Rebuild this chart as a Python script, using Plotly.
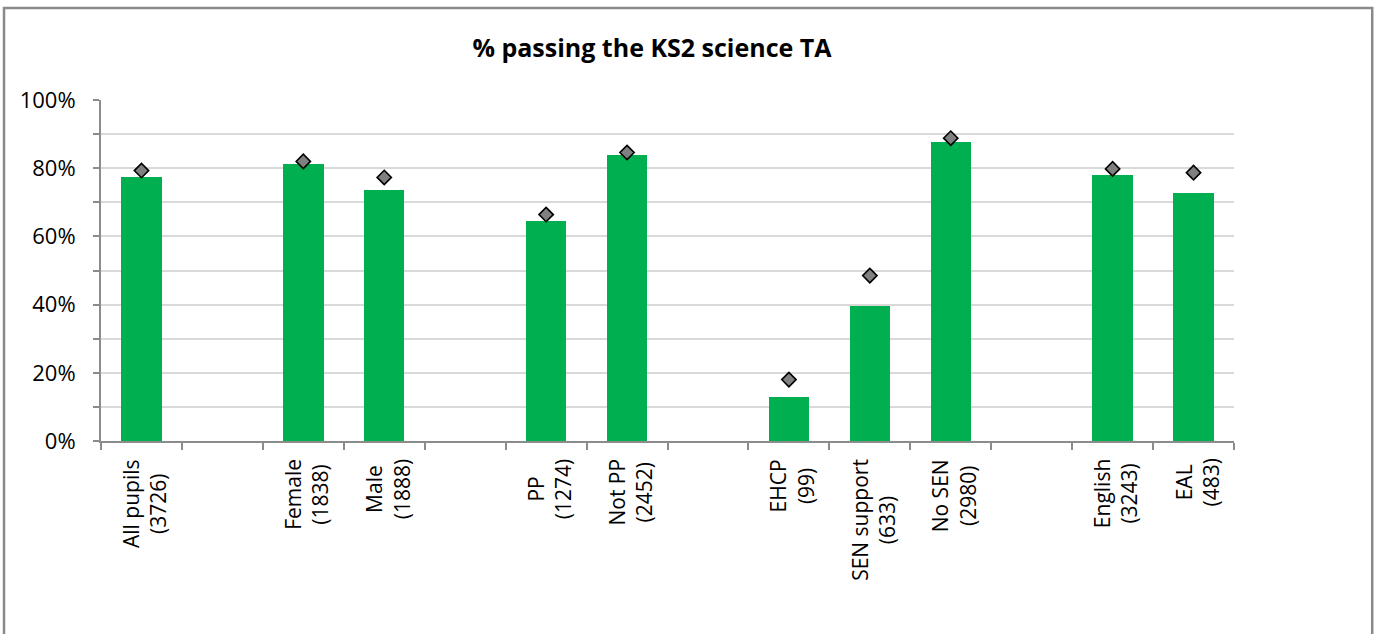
import plotly.graph_objects as go

# Pupil groups, cohort sizes and pass rates
categories = ["All pupils", "Female", "Male", "PP", "Not PP",
              "EHCP", "SEN support", "No SEN", "English", "EAL"]
counts = [3726, 1838, 1888, 1274, 2452, 99, 633, 2980, 3243, 483]
group_ids = [0, 1, 1, 2, 2, 3, 3, 3, 4, 4]
school_pct = [77.4, 81.1, 73.5, 64.4, 84.0, 13.0, 39.5, 87.6, 78.0, 72.8]
national_pct = [79.3, 82.0, 77.3, 66.4, 84.6, 18.0, 48.5, 88.8, 79.8, 78.7]

y_tick_vals = [0, 10, 20, 30, 40, 50, 60, 70, 80, 90, 100]
y_tick_text = ["0%", "", "20%", "", "40%", "", "60%", "", "80%", "", "100%"]

# one empty slot between each group of bars
positions = [i + g for i, g in enumerate(group_ids)]
n_slots = positions[-1] + 1
labels = [f"{c}<br>({n})" for c, n in zip(categories, counts)]

FONT = "Open Sans, Noto Sans, DejaVu Sans, sans-serif"
AXIS_GREY = "#8c8c8c"

fig = go.Figure()
fig.add_trace(go.Bar(
    x=positions, y=school_pct, width=0.5,
    marker=dict(color="#00b050", line=dict(width=0)),
    hoverinfo="skip",
))
fig.add_trace(go.Scatter(
    x=positions, y=national_pct, mode="markers",
    marker=dict(symbol="diamond", size=11, color="#808080",
                line=dict(color="#000000", width=1.6)),
    hoverinfo="skip",
))

for p, lab in zip(positions, labels):
    fig.add_annotation(
        x=p, xref="x", y=-0.047, yref="paper",
        text=lab, textangle=-90, showarrow=False,
        xanchor="center", yanchor="top", align="center", xshift=3,
        font=dict(family=FONT, size=21, color="#000000"),
    )

# outer chart frame
fig.add_shape(type="rect", xref="paper", yref="paper",
              x0=-0.0856, x1=1.122, y0=-1.0, y1=1.2698,
              line=dict(color="#8a8a8a", width=2.5), fillcolor="rgba(0,0,0,0)",
              layer="below")

fig.update_layout(
    width=1378, height=634,
    margin=dict(l=101, r=144, t=100, b=193),
    paper_bgcolor="white", plot_bgcolor="white",
    showlegend=False, bargap=0,
    title=dict(text="<b>% passing the KS2 science TA</b>",
               x=0.4863, xref="paper", xanchor="center",
               y=1 - 48 / 634, yref="container", yanchor="middle",
               font=dict(family=FONT, size=25, color="#000000")),
    xaxis=dict(range=[-0.5, n_slots - 0.5],
               tickvals=[i - 0.5 for i in range(n_slots + 1)],
               showticklabels=False, ticks="outside", ticklen=7,
               tickwidth=2, tickcolor=AXIS_GREY,
               showline=True, linecolor=AXIS_GREY, linewidth=2,
               showgrid=False, zeroline=False, fixedrange=True),
    yaxis=dict(range=[0, 100], tickvals=y_tick_vals, ticktext=y_tick_text,
               ticks="outside", ticklen=6, tickwidth=2, tickcolor=AXIS_GREY,
               ticklabelstandoff=13,
               showline=True, linecolor=AXIS_GREY, linewidth=2,
               showgrid=True, gridcolor="#d9d9d9", gridwidth=2,
               zeroline=False,
               tickfont=dict(family=FONT, size=22, color="#000000"),
               fixedrange=True),
)

fig.write_html("out.html")
